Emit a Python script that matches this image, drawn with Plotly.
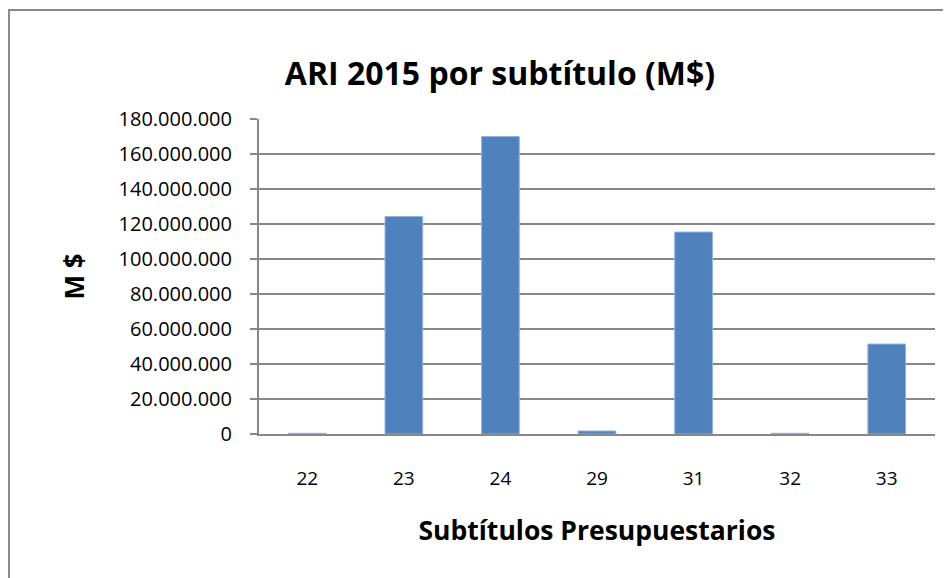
import plotly.graph_objects as go

categories = ["22", "23", "24", "29", "31", "32", "33"]
values = [400000, 124300000, 170000000, 1700000, 115400000, 400000, 51400000]
y_ticks = [0, 20000000, 40000000, 60000000, 80000000, 100000000,
           120000000, 140000000, 160000000, 180000000]

# page body has an 8px margin, so the figure is drawn 8px in and down
OFF = 8
W, H = 951 - OFF, 578 - OFF
L, R, T, B = 259 - OFF, 935 - OFF, 119 - OFF, 434 - OFF
pw, ph = R - L, B - T

fig = go.Figure()
fig.add_trace(go.Bar(
    x=categories, y=values,
    marker=dict(color="#4F81BD", line=dict(color="#8DB3E2", width=1)),
    width=0.39,
))

font_family = "'Open Sans', Lato, sans-serif"
fig.update_layout(
    width=W, height=H,
    margin=dict(l=L, r=W - R, t=T, b=H - B),
    paper_bgcolor="white", plot_bgcolor="white",
    separators=",.",
    showlegend=False,
    title=dict(text="<b>ARI 2015 por subtítulo (M$)</b>",
               x=(500 - OFF) / W, xanchor="center",
               y=1 - (74 - OFF) / H, yanchor="middle",
               font=dict(family=font_family, size=32, color="black")),
    font=dict(family=font_family, color="black"),
)
fig.update_xaxes(
    type="category", categoryorder="array", categoryarray=categories,
    showline=True, linecolor="#878787", linewidth=2,
    ticks="", showgrid=False,
    tickfont=dict(size=19, color="black"),
    ticklabelstandoff=26,
    title=dict(text="<b>Subtítulos Presupuestarios</b>",
               font=dict(size=26.5, color="black"), standoff=32),
)
fig.update_yaxes(
    range=[0, 180000000], tickvals=y_ticks, tickformat=",d",
    showline=True, linecolor="#878787", linewidth=2,
    ticks="outside", ticklen=7, tickcolor="#878787", tickwidth=2,
    showgrid=True, gridcolor="#878787", gridwidth=2,
    zeroline=False,
    tickfont=dict(size=20, color="black"),
    ticklabelstandoff=14,
    title=dict(text="<b>M $</b>", font=dict(size=26, color="black"), standoff=26),
)
fig.add_shape(type="rect", xref="paper", yref="paper",
              x0=(1 - L) / pw, x1=(1200 - L) / pw,
              y0=(B - 800) / ph, y1=(B - 2) / ph,
              line=dict(color="#8a8a8a", width=2), fillcolor="rgba(0,0,0,0)",
              layer="below")
fig.write_html("out.html")
